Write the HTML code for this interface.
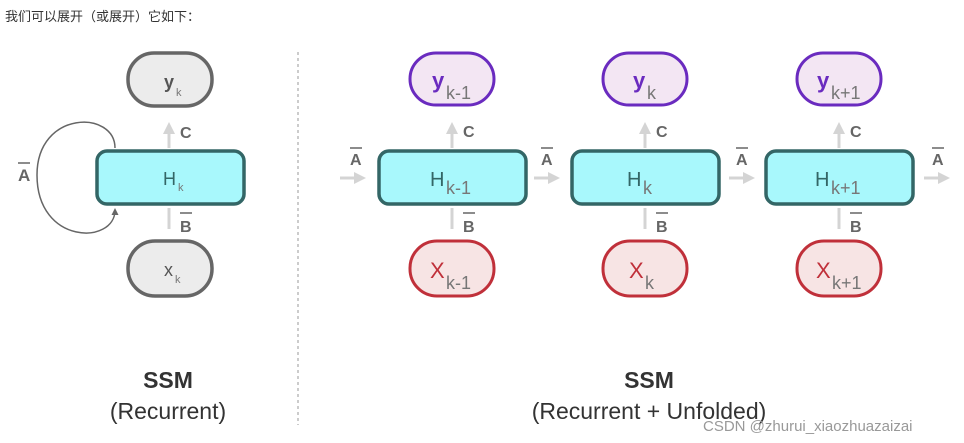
<!DOCTYPE html>
<html><head><meta charset="utf-8"><style>
body{margin:0;background:#fff;width:964px;height:443px;overflow:hidden}
svg{display:block}
text{font-family:"Liberation Sans","Noto Sans CJK SC",sans-serif}
</style></head><body>
<svg width="964" height="443" viewBox="0 0 964 443" xmlns="http://www.w3.org/2000/svg">
<defs>
<marker id="ga" markerWidth="4" markerHeight="4" refX="2" refY="2" orient="auto" markerUnits="strokeWidth"><path d="M0,0 L4,2 L0,4 z" fill="#d4d4d4"/></marker>
<marker id="da" markerWidth="7" markerHeight="7" refX="5" refY="3.5" orient="auto" markerUnits="userSpaceOnUse"><path d="M0,0 L7,3.5 L0,7 z" fill="#666"/></marker>
</defs>
<text x="5" y="21" font-size="13" fill="#333">我们可以展开（或展开）它如下：</text>
<line x1="298" y1="52" x2="298" y2="425" stroke="#ccc" stroke-width="2" stroke-dasharray="3,3"/>

<!-- Left recurrent -->
<path d="M115,148 C115,110 37,110 37,175 C37,245 115,245 115,210" fill="none" stroke="#666" stroke-width="1.5" marker-end="url(#da)"/>
<text x="18" y="181" font-size="17" font-weight="bold" fill="#666">A</text>
<line x1="18" y1="163" x2="30" y2="163" stroke="#666" stroke-width="1.5"/>
<rect x="128" y="53" width="84" height="53" rx="26" fill="#ececec" stroke="#666" stroke-width="3.5"/>
<text x="164" y="88" font-size="18" font-weight="bold" fill="#555">y</text><text x="176" y="96" font-size="11" fill="#777">k</text>
<line x1="169" y1="148" x2="169" y2="128" stroke="#d4d4d4" stroke-width="3" marker-end="url(#ga)"/>
<text x="180" y="138" font-size="16" font-weight="bold" fill="#666">C</text>
<rect x="97" y="151" width="147" height="53" rx="10" fill="#a8f8fc" stroke="#336666" stroke-width="3.5"/>
<text x="163" y="185" font-size="18" fill="#336666">H</text><text x="178" y="191" font-size="11" fill="#777">k</text>
<line x1="169" y1="229" x2="169" y2="208" stroke="#d4d4d4" stroke-width="3"/>
<text x="180" y="232" font-size="16" font-weight="bold" fill="#666">B</text>
<line x1="180" y1="213" x2="192" y2="213" stroke="#666" stroke-width="1.5"/>
<rect x="128" y="241" width="84" height="55" rx="27" fill="#ececec" stroke="#666" stroke-width="3.5"/>
<text x="164" y="276" font-size="18" fill="#555">x</text><text x="175" y="283" font-size="11" fill="#777">k</text>
<text x="168" y="388" font-size="23" font-weight="bold" fill="#333" text-anchor="middle">SSM</text>
<text x="168" y="419" font-size="23" fill="#333" text-anchor="middle">(Recurrent)</text>

<!-- Right unfolded -->
<g id="c1">
<rect x="410" y="53" width="84" height="52" rx="26" fill="#f3e6f3" stroke="#6a2bbf" stroke-width="3"/>
<rect x="379" y="151" width="147" height="53" rx="10" fill="#a8f8fc" stroke="#336666" stroke-width="3.5"/>
<rect x="410" y="241" width="84" height="55" rx="27" fill="#f7e4e4" stroke="#c0303a" stroke-width="3"/>
<line x1="452" y1="148" x2="452" y2="128" stroke="#d4d4d4" stroke-width="3" marker-end="url(#ga)"/>
<text x="463" y="137" font-size="16" font-weight="bold" fill="#666">C</text>
<line x1="452" y1="229" x2="452" y2="208" stroke="#d4d4d4" stroke-width="3"/>
<text x="463" y="232" font-size="16" font-weight="bold" fill="#666">B</text>
<line x1="463" y1="213" x2="475" y2="213" stroke="#666" stroke-width="1.5"/>
</g>
<use href="#c1" x="193"/>
<use href="#c1" x="387"/>

<g fill="#666" font-size="16" font-weight="bold">
<text x="350" y="165">A</text><text x="541" y="165">A</text><text x="736" y="165">A</text><text x="932" y="165">A</text>
</g>
<g stroke="#666" stroke-width="1.5">
<line x1="350" y1="148" x2="362" y2="148"/><line x1="541" y1="148" x2="553" y2="148"/><line x1="736" y1="148" x2="748" y2="148"/><line x1="932" y1="148" x2="944" y2="148"/>
</g>
<g stroke="#d4d4d4" stroke-width="3" marker-end="url(#ga)">
<line x1="340" y1="178" x2="360" y2="178"/><line x1="534" y1="178" x2="554" y2="178"/><line x1="729" y1="178" x2="749" y2="178"/><line x1="924" y1="178" x2="944" y2="178"/>
</g>

<g font-size="22">
<text x="432" y="88" fill="#6a2bbf" font-weight="bold">y</text><text x="446" y="99" fill="#777" font-size="18">k-1</text>
<text x="633" y="88" fill="#6a2bbf" font-weight="bold">y</text><text x="647" y="99" fill="#777" font-size="18">k</text>
<text x="817" y="88" fill="#6a2bbf" font-weight="bold">y</text><text x="831" y="99" fill="#777" font-size="18">k+1</text>
<text x="430" y="186" fill="#336666" font-size="20">H</text><text x="446" y="194" fill="#777" font-size="18">k-1</text>
<text x="627" y="186" fill="#336666" font-size="20">H</text><text x="643" y="194" fill="#777" font-size="18">k</text>
<text x="815" y="186" fill="#336666" font-size="20">H</text><text x="831" y="194" fill="#777" font-size="18">k+1</text>
<text x="430" y="278" fill="#c0303a">X</text><text x="446" y="289" fill="#777" font-size="18">k-1</text>
<text x="629" y="278" fill="#c0303a">X</text><text x="645" y="289" fill="#777" font-size="18">k</text>
<text x="816" y="278" fill="#c0303a">X</text><text x="832" y="289" fill="#777" font-size="18">k+1</text>
</g>
<text x="649" y="388" font-size="23" font-weight="bold" fill="#333" text-anchor="middle">SSM</text>
<text x="649" y="419" font-size="23" fill="#333" text-anchor="middle">(Recurrent + Unfolded)</text>
<text x="703" y="431" font-size="15" fill="#999">CSDN @zhurui_xiaozhuazaizai</text>
</svg>
</body></html>
